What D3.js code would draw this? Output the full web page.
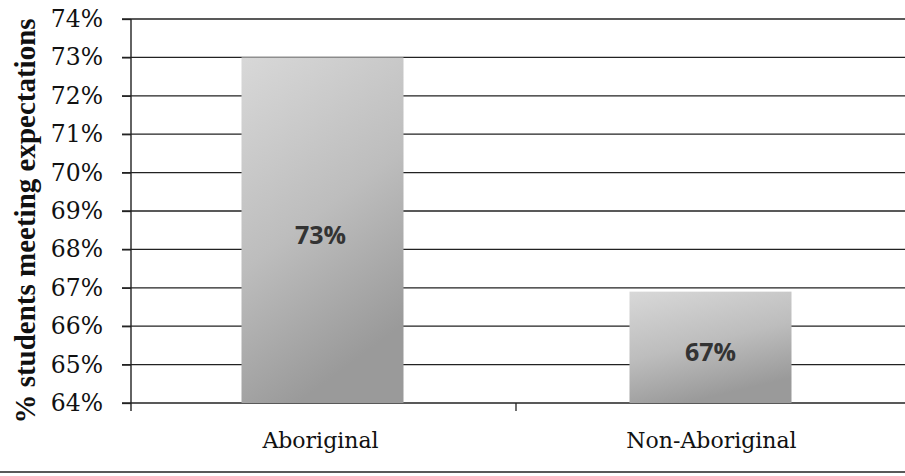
<!DOCTYPE html>
<html>
<head>
<meta charset="utf-8">
<script src="https://cdn.jsdelivr.net/npm/d3@7"></script>
<style>
  html, body { margin: 0; padding: 0; background: #fff; }
  svg { display: block; }
</style>
</head>
<body>
<svg id="chart" width="905" height="476"></svg>
<script>
const categories = ["Aboriginal", "Non-Aboriginal"];
const values = [0.73, 0.669];
const yTicks = [0.64, 0.65, 0.66, 0.67, 0.68, 0.69, 0.70, 0.71, 0.72, 0.73, 0.74];
const yTitle = "% students meeting expectations";

const svg = d3.select("#chart");
const W = 905, H = 476;
const margin = { left: 131, right: 4, top: 19, bottom: 73 };

const x = d3.scaleBand().domain(categories)
  .range([margin.left, W - margin.right]).paddingInner(0).paddingOuter(0);
const y = d3.scaleLinear().domain([0.64, 0.74]).range([H - margin.bottom, margin.top]);

const defs = svg.append("defs");
const grad = defs.append("linearGradient").attr("id", "barGrad")
  .attr("x1", "0").attr("y1", "0").attr("x2", "0.35").attr("y2", "1");
grad.append("stop").attr("offset", "0%").attr("stop-color", "#d8d8d8");
grad.append("stop").attr("offset", "55%").attr("stop-color", "#bdbdbd");
grad.append("stop").attr("offset", "100%").attr("stop-color", "#9a9a9a");

// gridlines
svg.append("g")
  .selectAll("line").data(yTicks).join("line")
  .attr("x1", margin.left - 9).attr("x2", W)
  .attr("y1", d => y(d)).attr("y2", d => y(d))
  .attr("stroke", "#222").attr("stroke-width", 1.3);

// bars
const barW = 162;
svg.append("g").selectAll("rect").data(categories).join("rect")
  .attr("x", (d) => x(d) + x.bandwidth() / 2 - barW / 2 + (d === "Aboriginal" ? -1 : 2))
  .attr("width", barW)
  .attr("y", (d, i) => y(values[i]))
  .attr("height", (d, i) => y(0.64) - y(values[i]))
  .attr("fill", "url(#barGrad)");

// y axis
const yAxis = d3.axisLeft(y).tickValues(yTicks).tickFormat(d3.format(".0%")).tickSize(9).tickPadding(19);
const gy = svg.append("g").attr("transform", `translate(${margin.left},0)`).call(yAxis);
gy.select(".domain").attr("stroke", "#222").attr("stroke-width", 1.4).attr("d", `M0,${y(0.74)}V${y(0.64) + 8}`);
gy.selectAll(".tick line").attr("stroke", "#222").attr("stroke-width", 1.3);
gy.selectAll(".tick text")
  .attr("font-family", "'DejaVu Serif', 'Liberation Serif', serif")
  .attr("font-size", 23.5).attr("fill", "#111");

// x axis (category boundary tick)
const boundary = x(categories[1]);
svg.append("line").attr("x1", boundary).attr("x2", boundary)
  .attr("y1", y(0.64)).attr("y2", y(0.64) + 8)
  .attr("stroke", "#222").attr("stroke-width", 1.3);

svg.append("g").selectAll("text").data(categories).join("text")
  .attr("x", d => x(d) + x.bandwidth() / 2 + (d === "Aboriginal" ? -3 : 3))
  .attr("y", 448)
  .attr("text-anchor", "middle")
  .attr("font-family", "'DejaVu Serif', 'Liberation Serif', serif")
  .attr("font-size", 22).attr("fill", "#111")
  .text(d => d);

// value labels
svg.append("g").selectAll("text").data(categories).join("text")
  .attr("x", d => x(d) + x.bandwidth() / 2 + (d === "Aboriginal" ? -3 : 2))
  .attr("y", (d, i) => y(0.64) - (y(0.64) - y(values[i])) / 2 + 14)
  .attr("text-anchor", "middle")
  .attr("font-family", "'Open Sans', 'DejaVu Sans', sans-serif")
  .attr("font-weight", "bold")
  .attr("font-size", 25).attr("fill", "#333")
  .text((d, i) => d3.format(".0%")(values[i]));

// y title
svg.append("text")
  .attr("transform", `translate(35,221) rotate(-90)`)
  .attr("text-anchor", "middle")
  .attr("font-family", "'Liberation Serif', 'DejaVu Serif', serif")
  .attr("font-weight", "bold")
  .attr("font-size", 29).attr("fill", "#111")
  .text(yTitle);

// bottom border
svg.append("line").attr("x1", 0).attr("x2", W).attr("y1", 472).attr("y2", 472)
  .attr("stroke", "#222").attr("stroke-width", 1.6);
</script>
</body>
</html>
